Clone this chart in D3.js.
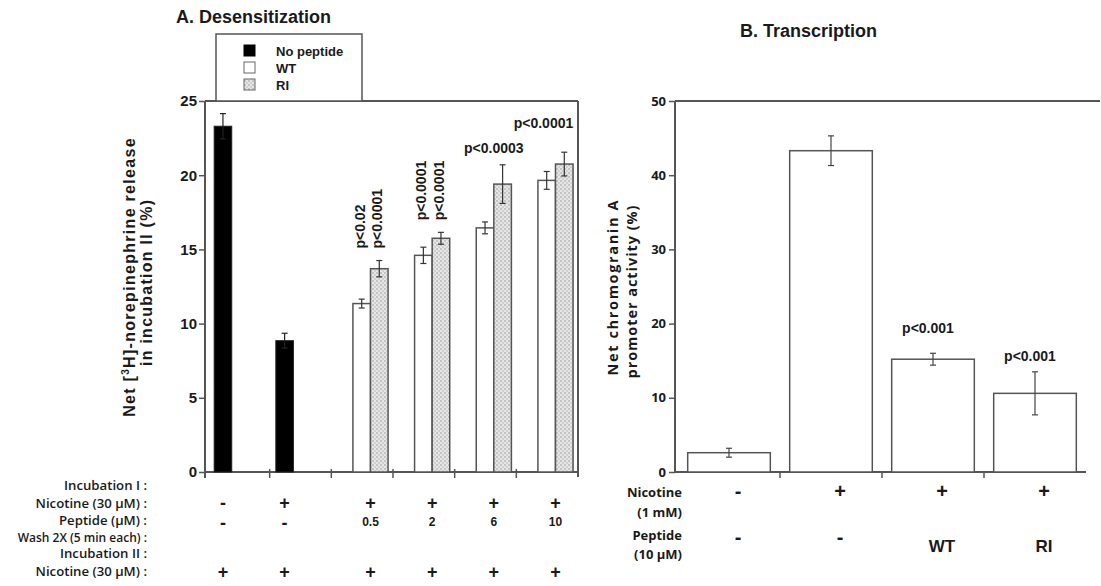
<!DOCTYPE html>
<html>
<head>
<meta charset="utf-8">
<script src="https://cdn.jsdelivr.net/npm/d3@7"></script>
<style>
  body { margin: 0; background: #fff; }
  svg { display: block; }
  text { fill: #1a1a1a; }
</style>
</head>
<body>
<svg id="chart" width="1101" height="586"></svg>
<script>
// ---------- DATA ----------
// Panel A: Desensitization
const groupsA = ["No nicotine", "Nicotine", "0.5 µM", "2 µM", "6 µM", "10 µM"];
const seriesA = ["No peptide", "WT", "RI"];
const noPeptideA = [23.3, 8.85, null, null, null, null];
const noPeptideErrA = [0.85, 0.5, null, null, null, null];
const wtA = [null, null, 11.35, 14.6, 16.45, 19.65];
const wtErrA = [null, null, 0.3, 0.55, 0.4, 0.6];
const riA = [null, null, 13.7, 15.75, 19.4, 20.75];
const riErrA = [null, null, 0.55, 0.4, 1.3, 0.8];
const pWtA = [null, null, "p<0.02", "p<0.0001", null, null];
const pRiA = [null, null, "p<0.0001", "p<0.0001", null, null];
const pGroupA = [null, null, null, null, "p<0.0003", "p<0.0001"];
const yTicksA = [0, 5, 10, 15, 20, 25];
const rowLabelsA = ["Incubation I :", "Nicotine (30 µM) :", "Peptide (µM) :", "Wash 2X (5 min each) :", "Incubation II :", "Nicotine (30 µM) :"];
const nicotineIA = ["-", "+", "+", "+", "+", "+"];
const peptideA = ["-", "-", "0.5", "2", "6", "10"];
const nicotineIIA = ["+", "+", "+", "+", "+", "+"];

// Panel B: Transcription
const groupsB = ["Control", "Nicotine", "Nicotine + WT", "Nicotine + RI"];
const valuesB = [2.6, 43.3, 15.2, 10.6];
const errB = [0.6, 2.0, 0.8, 2.9];
const pB = [null, null, "p<0.001", "p<0.001"];
const yTicksB = [0, 10, 20, 30, 40, 50];
const nicotineB = ["-", "+", "+", "+"];
const peptideB = ["-", "-", "WT", "RI"];

// ---------- SETUP ----------
const svg = d3.select("#chart");
const ARIAL = "'Liberation Sans', Arial, sans-serif";
const SANS2 = "'Open Sans', sans-serif";
const LINE = "#555";

const defs = svg.append("defs");
const pat = defs.append("pattern").attr("id", "stipple")
  .attr("width", 4).attr("height", 4).attr("patternUnits", "userSpaceOnUse");
pat.append("rect").attr("width", 4).attr("height", 4).attr("fill", "#e6e6e6");
pat.append("circle").attr("cx", 1).attr("cy", 1).attr("r", 0.8).attr("fill", "#9a9a9a");
pat.append("circle").attr("cx", 3).attr("cy", 3).attr("r", 0.8).attr("fill", "#b5b5b5");

const fillFor = { "No peptide": "#000", "WT": "#fff", "RI": "url(#stipple)" };

function errBar(g, cx, yTop, yBot, cap, color) {
  g.append("line").attr("x1", cx).attr("x2", cx).attr("y1", yTop).attr("y2", yBot)
    .attr("stroke", color).attr("stroke-width", 1.2);
  [yTop, yBot].forEach(y => g.append("line").attr("x1", cx - cap).attr("x2", cx + cap)
    .attr("y1", y).attr("y2", y).attr("stroke", color).attr("stroke-width", 1.2));
}

// ---------- PANEL A ----------
const A = { left: 205, right: 578, top: 101, bottom: 472 };
const yA = d3.scaleLinear().domain([0, 25]).range([A.bottom, A.top]);
const xA = d3.scaleBand().domain(groupsA).range([208, A.right]).paddingInner(0).paddingOuter(0);
const bwA = xA.bandwidth();
const xPairA = d3.scaleBand().domain(["WT", "RI"]).range([0.35 * bwA, 0.92 * bwA]);
const barW = xPairA.bandwidth();
const blackOff = 0.1 * bwA;

const gA = svg.append("g");

// frame (top + right)
gA.append("line").attr("x1", A.left).attr("x2", A.right).attr("y1", A.top).attr("y2", A.top)
  .attr("stroke", LINE).attr("stroke-width", 2);
gA.append("line").attr("x1", A.right).attr("x2", A.right).attr("y1", A.top).attr("y2", A.bottom + 5)
  .attr("stroke", LINE).attr("stroke-width", 2);

// y axis
const axA = gA.append("g").attr("transform", `translate(${A.left},0)`)
  .call(d3.axisLeft(yA).tickValues(yTicksA).tickSize(6).tickPadding(2).tickFormat(d3.format("d")));
axA.select(".domain").attr("stroke", LINE).attr("stroke-width", 2)
  .attr("d", `M0,${A.top}V${A.bottom + 6}`);
axA.selectAll(".tick line").attr("stroke", LINE).attr("stroke-width", 1.5);
axA.selectAll(".tick text").attr("font-family", ARIAL).attr("font-weight", "bold")
  .attr("font-size", 15).attr("fill", "#1a1a1a");

// x axis baseline + boundary ticks
gA.append("line").attr("x1", A.left).attr("x2", A.right).attr("y1", A.bottom).attr("y2", A.bottom)
  .attr("stroke", LINE).attr("stroke-width", 2);
groupsA.slice(1).forEach(g => {
  const x = xA(g);
  gA.append("line").attr("x1", x).attr("x2", x).attr("y1", A.bottom - 3).attr("y2", A.bottom + 6)
    .attr("stroke", LINE).attr("stroke-width", 1.5);
});

// bars
groupsA.forEach((g, i) => {
  const x0 = xA(g);
  if (noPeptideA[i] != null) {
    const x = x0 + blackOff;
    gA.append("rect").attr("x", x).attr("y", yA(noPeptideA[i])).attr("width", barW)
      .attr("height", yA(0) - yA(noPeptideA[i])).attr("fill", fillFor["No peptide"])
      .attr("stroke", "#222").attr("stroke-width", 1);
    errBar(gA, x + barW / 2, yA(noPeptideA[i] + noPeptideErrA[i]), yA(noPeptideA[i] - noPeptideErrA[i]), 3, "#222");
  }
  [["WT", wtA, wtErrA], ["RI", riA, riErrA]].forEach(([s, vals, errs]) => {
    if (vals[i] == null) return;
    const x = x0 + xPairA(s);
    gA.append("rect").attr("x", x).attr("y", yA(vals[i])).attr("width", barW)
      .attr("height", yA(0) - yA(vals[i])).attr("fill", fillFor[s])
      .attr("stroke", LINE).attr("stroke-width", 1.5);
    errBar(gA, x + barW / 2, yA(vals[i] + errs[i]), yA(vals[i] - errs[i]), 3, "#333");
  });
});

// p-values panel A
groupsA.forEach((g, i) => {
  const x0 = xA(g);
  if (pWtA[i] != null || pRiA[i] != null) {
    const topVal = Math.max(wtA[i] + wtErrA[i], riA[i] + riErrA[i]);
    const yb = yA(topVal) - 12;
    [["WT", pWtA[i]], ["RI", pRiA[i]]].forEach(([s, t]) => {
      if (!t) return;
      const cx = x0 + xPairA(s) + barW / 2 + 3;
      gA.append("text").attr("transform", `translate(${cx},${yb}) rotate(-90)`)
        .attr("font-family", ARIAL).attr("font-weight", "bold").attr("font-size", 14)
        .text(t);
    });
  }
  if (pGroupA[i]) {
    const topVal = Math.max(wtA[i] + wtErrA[i], riA[i] + riErrA[i]);
    const extra = i === groupsA.length - 1 ? 24 : 12;
    const cx = x0 + xPairA("RI") - (i === groupsA.length - 1 ? 12 : 0);
    gA.append("text").attr("x", cx).attr("y", yA(topVal) - extra)
      .attr("text-anchor", "middle").attr("font-family", ARIAL).attr("font-weight", "bold")
      .attr("font-size", 14).text(pGroupA[i]);
  }
});

// y title A
const ytA = gA.append("text").attr("transform", `translate(135,277) rotate(-90)`)
  .attr("text-anchor", "middle").attr("font-family", ARIAL).attr("font-weight", "bold")
  .attr("font-size", 16).attr("letter-spacing", 1.3);
ytA.append("tspan").text("Net [");
ytA.append("tspan").attr("font-size", 10).attr("dy", -6).text("3");
ytA.append("tspan").attr("dy", 6).text("H]-norepinephrine release");
gA.append("text").attr("transform", `translate(152,283) rotate(-90)`)
  .attr("text-anchor", "middle").attr("font-family", ARIAL).attr("font-weight", "bold")
  .attr("font-size", 16).attr("textLength", 166).attr("lengthAdjust", "spacing")
  .text("in incubation II (%)");

// title A
svg.append("text").attr("x", 176).attr("y", 23).attr("font-family", ARIAL)
  .attr("font-weight", "bold").attr("font-size", 18).text("A. Desensitization");

// legend A
const lg = svg.append("g");
lg.append("rect").attr("x", 216).attr("y", 34).attr("width", 146).attr("height", A.top - 34)
  .attr("fill", "#fff").attr("stroke", LINE).attr("stroke-width", 1.5);
seriesA.forEach((s, i) => {
  const yy = 51 + i * 17;
  lg.append("rect").attr("x", 244).attr("y", yy - 6).attr("width", 11).attr("height", 11)
    .attr("fill", fillFor[s]).attr("stroke", s === "No peptide" ? "#000" : "#666").attr("stroke-width", 1);
  lg.append("text").attr("x", 276).attr("y", yy + 5).attr("font-family", ARIAL)
    .attr("font-weight", "bold").attr("font-size", 13).text(s);
});

// row labels A
const rowY = [486, 504, 521, 538, 554, 572];
rowLabelsA.forEach((t, i) => {
  svg.append("text").attr("x", 147).attr("y", rowY[i] + 4).attr("text-anchor", "end")
    .attr("font-family", SANS2).attr("font-weight", 600)
    .attr("font-size", i === 3 ? 12 : 13.2).text(t);
});
function centerA(i) {
  const x0 = xA(groupsA[i]);
  return noPeptideA[i] != null ? x0 + blackOff + barW / 2 : x0 + xPairA("RI");
}
function symbol(x, y, t) {
  const isSym = (t === "+" || t === "-");
  svg.append("text").attr("x", x).attr("y", y).attr("text-anchor", "middle")
    .attr("font-family", ARIAL).attr("font-weight", "bold")
    .attr("font-size", isSym ? 18 : 12).text(t);
}
nicotineIA.forEach((t, i) => symbol(centerA(i), 509, t));
peptideA.forEach((t, i) => symbol(centerA(i), t === "-" ? 529 : 526, t));
nicotineIIA.forEach((t, i) => symbol(centerA(i), 578, t));

// ---------- PANEL B ----------
const B = { left: 675, right: 1100, top: 101, bottom: 472 };
const yB = d3.scaleLinear().domain([0, 50]).range([B.bottom, B.top]);
const xB = d3.scaleBand().domain(groupsB).range([678, 1086]).paddingInner(0.19).paddingOuter(0.095);
const gB = svg.append("g");

gB.append("line").attr("x1", B.left).attr("x2", B.right).attr("y1", B.top).attr("y2", B.top)
  .attr("stroke", LINE).attr("stroke-width", 2);
const axB = gB.append("g").attr("transform", `translate(${B.left},0)`)
  .call(d3.axisLeft(yB).tickValues(yTicksB).tickSize(6).tickPadding(3).tickFormat(d3.format("d")));
axB.select(".domain").attr("stroke", LINE).attr("stroke-width", 2)
  .attr("d", `M0,${B.top}V${B.bottom}`);
axB.selectAll(".tick line").attr("stroke", LINE).attr("stroke-width", 1.5);
axB.selectAll(".tick text").attr("font-family", SANS2).attr("font-weight", "bold")
  .attr("font-size", 13).attr("fill", "#1a1a1a");

gB.append("line").attr("x1", B.left).attr("x2", 1086).attr("y1", B.bottom).attr("y2", B.bottom)
  .attr("stroke", LINE).attr("stroke-width", 2);
const stepB = xB.step();
groupsB.slice(1).forEach(g => {
  const x = xB(g) - (stepB - xB.bandwidth()) / 2;
  gB.append("line").attr("x1", x).attr("x2", x).attr("y1", B.bottom).attr("y2", B.bottom + 6)
    .attr("stroke", LINE).attr("stroke-width", 1.5);
});

groupsB.forEach((g, i) => {
  const x = xB(g);
  gB.append("rect").attr("x", x).attr("y", yB(valuesB[i])).attr("width", xB.bandwidth())
    .attr("height", yB(0) - yB(valuesB[i])).attr("fill", "#fff")
    .attr("stroke", LINE).attr("stroke-width", 1.5);
  errBar(gB, x + xB.bandwidth() / 2, yB(valuesB[i] + errB[i]), yB(valuesB[i] - errB[i]), 3, "#444");
  if (pB[i]) {
    const gap = i === 2 ? 20 : 11;
    gB.append("text").attr("x", x + xB.bandwidth() / 2 - 5).attr("y", yB(valuesB[i] + errB[i]) - gap)
      .attr("text-anchor", "middle").attr("font-family", ARIAL).attr("font-weight", "bold")
      .attr("font-size", 14).text(pB[i]);
  }
});

// y title B
gB.append("text").attr("transform", `translate(618,288) rotate(-90)`)
  .attr("text-anchor", "middle").attr("font-family", SANS2).attr("font-weight", "bold")
  .attr("font-size", 14.5).attr("textLength", 175).attr("lengthAdjust", "spacing")
  .text("Net chromogranin A");
gB.append("text").attr("transform", `translate(637,292) rotate(-90)`)
  .attr("text-anchor", "middle").attr("font-family", SANS2).attr("font-weight", "bold")
  .attr("font-size", 14.5).attr("textLength", 173).attr("lengthAdjust", "spacing")
  .text("promoter activity (%)");

// title B
svg.append("text").attr("x", 740).attr("y", 37).attr("font-family", ARIAL)
  .attr("font-weight", "bold").attr("font-size", 18).text("B. Transcription");

// row labels B
const rowLabB = [["Nicotine", 492], ["(1 mM)", 512], ["Peptide", 535], ["(10 µM)", 554]];
rowLabB.forEach(([t, y]) => svg.append("text").attr("x", 682).attr("y", y + 5)
  .attr("text-anchor", "end").attr("font-family", SANS2).attr("font-weight", "bold")
  .attr("font-size", 13).text(t));
groupsB.forEach((g, i) => {
  const cx = xB(g) + xB.bandwidth() / 2 + 9;
  svg.append("text").attr("x", cx).attr("y", 498).attr("text-anchor", "middle")
    .attr("font-family", ARIAL).attr("font-weight", "bold").attr("font-size", 20).text(nicotineB[i]);
  const t = peptideB[i];
  svg.append("text").attr("x", cx).attr("y", t === "-" ? 544 : 552).attr("text-anchor", "middle")
    .attr("font-family", ARIAL).attr("font-weight", "bold")
    .attr("font-size", t === "-" ? 20 : 17).text(t);
});
</script>
</body>
</html>
